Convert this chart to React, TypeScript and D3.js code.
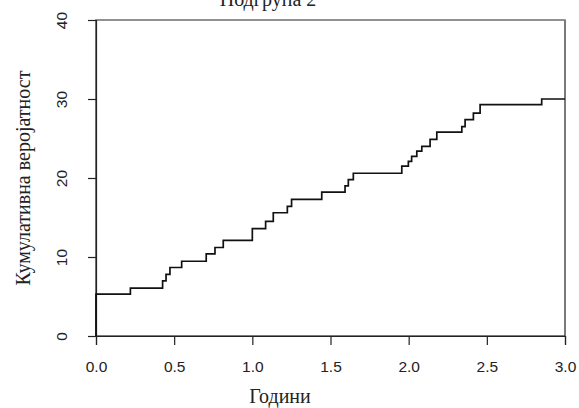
import React, { useEffect, useRef } from 'react'
import { select, scaleLinear, axisLeft, axisBottom, line, curveStepAfter, format } from 'd3'

// step points (years -> cumulative value)
const years = [0, 0, 0.22, 0.426, 0.448, 0.473, 0.548, 0.705, 0.761, 0.814, 1.0, 1.085, 1.134, 1.224, 1.251, 1.444,
  1.593, 1.614, 1.646, 1.956, 1.998, 2.019, 2.052, 2.084, 2.137, 2.18, 2.34, 2.361, 2.414, 2.457, 2.851, 3.0]
const values = [0, 5.3, 6.05, 6.98, 7.8, 8.67, 9.46, 10.4, 11.2, 12.1, 13.6, 14.5, 15.6, 16.4, 17.3, 18.2,
  19.0, 19.8, 20.6, 21.5, 22.1, 22.75, 23.4, 24.0, 24.9, 25.8, 26.5, 27.4, 28.2, 29.3, 30.0, 30.0]
const xTicks = [0, 0.5, 1, 1.5, 2, 2.5, 3]
const yTicks = [0, 10, 20, 30, 40]

const title = 'Подгрупа 2'
const xLabel = 'Години'
const yLabel = 'Кумулативна вероjатност'

export default function App() {
  const svgRef = useRef<SVGSVGElement>(null)

  const width = 579
  const height = 408
  const margin = { top: 20, right: 14, bottom: 72, left: 96 }
  const innerW = width - margin.left - margin.right
  const innerH = height - margin.top - margin.bottom

  useEffect(() => {
    const svg = select(svgRef.current)
    svg.selectAll('*').remove()

    const x = scaleLinear().domain([0, 3]).range([0, innerW])
    const y = scaleLinear().domain([0, 40]).range([innerH, 0])

    const g = svg.append('g').attr('transform', `translate(${margin.left},${margin.top})`)

    // plot box
    g.append('rect')
      .attr('width', innerW).attr('height', innerH)
      .attr('fill', 'none').attr('stroke', '#222').attr('stroke-width', 1.2)
    g.append('line')
      .attr('x1', 0).attr('x2', innerW).attr('y1', 0).attr('y2', 0)
      .attr('stroke', '#9a9a9a').attr('stroke-width', 1.5)

    const xa = g.append('g')
      .attr('transform', `translate(0,${innerH})`)
      .call(axisBottom(x).tickValues(xTicks).tickSize(9).tickFormat(format('.1f')))
    xa.select('.domain').attr('stroke', '#222').attr('stroke-width', 1.2)
    xa.selectAll('line').attr('stroke', '#222').attr('stroke-width', 1.2)
    xa.selectAll('text')
      .attr('y', 36).attr('dy', 0)
      .attr('font-family', '"Liberation Sans", Arial, sans-serif')
      .attr('font-size', 15.5).attr('fill', '#222')

    const ya = g.append('g')
      .call(axisLeft(y).tickValues(yTicks).tickSize(8))
    ya.select('.domain').attr('stroke', '#222').attr('stroke-width', 1.2)
    ya.selectAll('line').attr('stroke', '#222').attr('stroke-width', 1.2)
    ya.selectAll('text')
      .attr('x', 0).attr('dy', 0)
      .attr('transform', 'translate(-29,0) rotate(-90)')
      .attr('text-anchor', 'middle')
      .attr('font-family', '"Liberation Sans", Arial, sans-serif')
      .attr('font-size', 15.5).attr('fill', '#222')

    const pts = years.map((t, i) => [t, values[i]] as [number, number])
    const stepLine = line<[number, number]>()
      .x(d => x(d[0]))
      .y(d => y(d[1]))
      .curve(curveStepAfter)

    g.append('path')
      .attr('d', stepLine(pts))
      .attr('fill', 'none')
      .attr('stroke', '#111')
      .attr('stroke-width', 1.7)

    // labels
    svg.append('text')
      .attr('x', 268).attr('y', 6)
      .attr('text-anchor', 'middle')
      .attr('font-family', '"Liberation Serif", "Times New Roman", serif')
      .attr('font-size', 20).attr('fill', '#222')
      .text(title)

    svg.append('text')
      .attr('x', 280).attr('y', 403)
      .attr('text-anchor', 'middle')
      .attr('font-family', '"Liberation Serif", "Times New Roman", serif')
      .attr('font-size', 20).attr('fill', '#222')
      .text(xLabel)

    svg.append('text')
      .attr('transform', `translate(30,${margin.top + innerH / 2}) rotate(-90)`)
      .attr('text-anchor', 'middle')
      .attr('font-family', '"Liberation Serif", "Times New Roman", serif')
      .attr('font-size', 20).attr('fill', '#222')
      .text(yLabel)
  }, [])

  return (
    <svg
      ref={svgRef}
      width={width}
      height={height}
      style={{ position: 'absolute', left: 0, top: 0, background: '#fff' }}
    />
  )
}
